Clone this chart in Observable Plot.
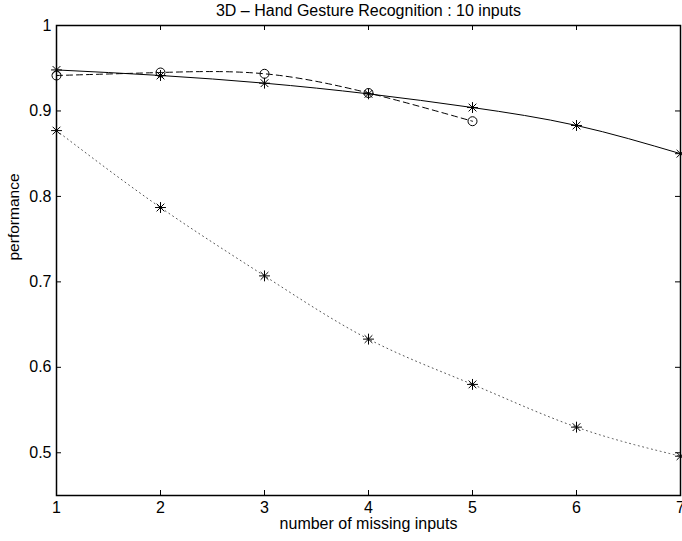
<!DOCTYPE html>
<html>
<head>
<meta charset="utf-8">
<script src="https://cdn.jsdelivr.net/npm/d3@7"></script>
<script src="https://cdn.jsdelivr.net/npm/@observablehq/plot@0.6"></script>
<style>
  html, body { margin: 0; padding: 0; background: #fff; }
  svg { display: block; }
</style>
</head>
<body>
<div id="chart"></div>
<script>
const title = "3D \u2013 Hand Gesture Recognition : 10 inputs";
const xLabel = "number of missing inputs";
const yLabel = "performance";

const missing = [1, 2, 3, 4, 5, 6, 7];
const solidStar = [0.948, 0.9415, 0.9325, 0.920, 0.904, 0.883, 0.850];
const dashedMissing = [1, 2, 3, 4, 5];
const dashedCircle = [0.9415, 0.945, 0.9435, 0.921, 0.888];
const dottedStar = [0.877, 0.787, 0.707, 0.633, 0.580, 0.530, 0.496];

const xTicks = [1, 2, 3, 4, 5, 6, 7];
const yTicks = [0.5, 0.6, 0.7, 0.8, 0.9, 1.0];

const solid = missing.map((x, i) => ({x, y: solidStar[i]}));
const dashed = dashedMissing.map((x, i) => ({x, y: dashedCircle[i]}));
const dotted = missing.map((x, i) => ({x, y: dottedStar[i]}));

const W = 682, H = 541;
const mt = 25, mb = 46, ml = 56, mr = 2;
const frameH = H - mt - mb, frameW = W - ml - mr;
const tickLen = 5;
const fs = 16;

const starMarks = (data) => [
  Plot.dot(data, {x: "x", y: "y", symbol: "plus", r: 3.6, stroke: "black", strokeWidth: 1}),
  Plot.dot(data, {x: "x", y: "y", symbol: "times", r: 3.6, stroke: "black", strokeWidth: 1})
];

const chart = Plot.plot({
  width: W,
  height: H,
  marginTop: mt,
  marginBottom: mb,
  marginLeft: ml,
  marginRight: mr,
  style: {fontFamily: "'Liberation Sans', Arial, Helvetica, sans-serif", fontSize: fs + "px", color: "black", background: "white"},
  x: {domain: [1, 7]},
  y: {domain: [0.45, 1.0]},
  marks: [
    Plot.axisX(xTicks, {anchor: "bottom", tickSize: 0, tickPadding: 6, fontSize: fs, tickFormat: d => String(d), label: null}),
    Plot.axisY(yTicks, {anchor: "left", tickSize: 0, tickPadding: 5, fontSize: fs, tickFormat: d => d === 1 ? "1" : d3.format(".1f")(d), label: null}),
    // inward ticks on all four sides
    Plot.tickX(xTicks, {x: d => d, insetTop: frameH - tickLen, stroke: "black"}),
    Plot.tickX(xTicks, {x: d => d, insetBottom: frameH - tickLen, stroke: "black"}),
    Plot.tickY(yTicks, {y: d => d, insetRight: frameW - tickLen, stroke: "black"}),
    Plot.tickY(yTicks, {y: d => d, insetLeft: frameW - tickLen, stroke: "black"}),
    Plot.frame({stroke: "black", strokeWidth: 1.5}),
    // series
    Plot.line(solid, {x: "x", y: "y", curve: "natural", stroke: "black", strokeWidth: 1}),
    Plot.line(dashed, {x: "x", y: "y", curve: "natural", stroke: "black", strokeWidth: 1, strokeDasharray: "6,4"}),
    Plot.line(dotted, {x: "x", y: "y", curve: "natural", stroke: "#555", strokeWidth: 1, strokeDasharray: "1,3.5"}),
    ...starMarks(solid),
    Plot.dot(dashed, {x: "x", y: "y", symbol: "circle", r: 4.5, stroke: "black", fill: "none", strokeWidth: 1}),
    ...starMarks(dotted),
    // titles
    Plot.text([title], {frameAnchor: "top", dy: -21, fontSize: fs, fill: "black"}),
    Plot.text([xLabel], {frameAnchor: "bottom", dy: 33, fontSize: fs, fill: "black"}),
    Plot.text([yLabel], {frameAnchor: "left", dx: -42, rotate: -90, fontSize: 15.5, fill: "black"})
  ]
});
document.getElementById("chart").appendChild(chart);
</script>
</body>
</html>
